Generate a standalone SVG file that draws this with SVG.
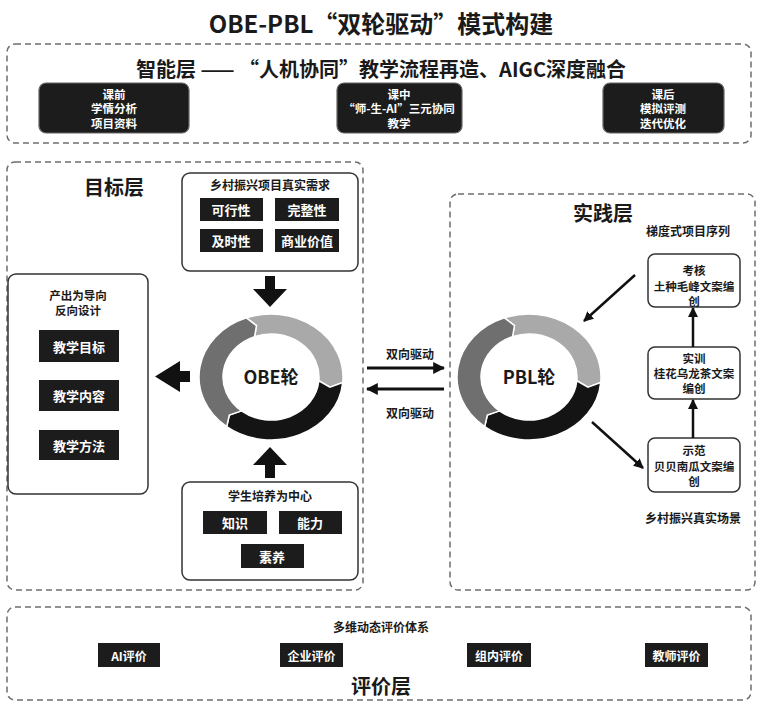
<svg xmlns="http://www.w3.org/2000/svg" xmlns:xlink="http://www.w3.org/1999/xlink" width="762" height="704" viewBox="0 0 762 704">
<style>
text{font-family:"Noto Sans CJK SC","Noto Sans",sans-serif;font-weight:700;fill:#1a1a1a;text-anchor:middle;dominant-baseline:central}
.w{fill:#fff}
.t12{font-size:12px}
.t11{font-size:11.5px}
.t13{font-size:13px}
.big{font-size:20px}
.dash{fill:none;stroke:#6e6e6e;stroke-width:1.5;stroke-dasharray:6 4}
.frame{fill:#fff;stroke:#333;stroke-width:1.5}
.dk{fill:#1c1c1c}
.dkr{fill:#1c1c1c;stroke:#666;stroke-width:1.2}
.ln{fill:none;stroke:#111;stroke-width:3}
.ln2{fill:none;stroke:#111;stroke-width:2.5}
.blk{fill:#111}
.s1{fill:#a9a9a9;stroke:#fff;stroke-width:1.5}
.s2{fill:#141414;stroke:#fff;stroke-width:1.5}
.s3{fill:#6f6f6f;stroke:#fff;stroke-width:1.5}
</style>
<defs>
<marker id="ah" viewBox="0 0 10 10" refX="9" refY="5" markerWidth="4" markerHeight="4" orient="auto"><path d="M0,0 L10,5 L0,10 z" fill="#111"/></marker>
<g id="wheel">
<path class="s1" d="M-24.62,-59.20 A72,63 0 0 1 71.73,5.49 L58.90,10.11 L47.82,3.75 A48,43 0 0 0 -16.42,-40.41 L-14.51,-51.43 Z"/>
<path class="s2" d="M71.73,5.49 A72,63 0 0 1 -44.33,49.64 L-41.68,38.12 L-29.55,33.88 A48,43 0 0 0 47.82,3.75 L58.90,10.11 Z"/>
<path class="s3" d="M-44.33,49.64 A72,63 0 0 1 -24.62,-59.20 L-14.51,-51.43 L-16.42,-40.41 A48,43 0 0 0 -29.55,33.88 L-41.68,38.12 Z"/>
</g>
</defs>
<rect width="762" height="704" fill="#fff"/>

<text x="381" y="22" style="font-size:24px">OBE-PBL“双轮驱动”模式构建</text>

<g id="layer-ai">
<rect class="dash" x="7" y="44" width="744" height="99" rx="8"/>
<text x="381" y="68" class="big">智能层 —— “人机协同”教学流程再造、AIGC深度融合</text>
</g>
<g id="pre">
<rect class="dkr" x="39" y="83" width="150" height="50" rx="7"/>
<text class="w t11" x="114" y="93.5">课前</text>
<text class="w t11" x="114" y="108">学情分析</text>
<text class="w t11" x="114" y="122.5">项目资料</text>
</g>
<g id="mid">
<rect class="dkr" x="337" y="83" width="125" height="50" rx="7"/>
<text class="w t11" x="399" y="93.5">课中</text>
<text class="w t11" x="399" y="108">“师-生-AI”三元协同</text>
<text class="w t11" x="399" y="122.5">教学</text>
</g>
<g id="post">
<rect class="dkr" x="603" y="83" width="121" height="50" rx="7"/>
<text class="w t11" x="663" y="93.5">课后</text>
<text class="w t11" x="663" y="108">模拟评测</text>
<text class="w t11" x="663" y="122.5">迭代优化</text>
</g>

<g id="layer-goal">
<rect class="dash" x="7" y="162" width="356" height="428" rx="8"/>
<text x="114" y="186" class="big">目标层</text>
</g>
<g id="demand">
<rect class="frame" x="182" y="173" width="176" height="98" rx="8"/>
<text class="t12" x="270" y="184">乡村振兴项目真实需求</text>
<rect class="dk" x="200" y="198" width="63" height="23"/>
<text class="w t13" x="231" y="209.5">可行性</text>
<rect class="dk" x="275" y="198" width="64" height="23"/>
<text class="w t13" x="307" y="209.5">完整性</text>
<rect class="dk" x="200" y="229" width="63" height="23"/>
<text class="w t13" x="231" y="240.5">及时性</text>
<rect class="dk" x="275" y="229" width="64" height="23"/>
<text class="w t13" x="307" y="240.5">商业价值</text>
</g>
<g id="output">
<rect class="frame" x="8" y="274" width="140" height="220" rx="8"/>
<text class="t11" x="78" y="295">产出为导向</text>
<text class="t11" x="78" y="310">反向设计</text>
<rect class="dk" x="39" y="330" width="80" height="32"/>
<text class="w t13" x="79" y="346">教学目标</text>
<rect class="dk" x="39" y="380" width="80" height="31"/>
<text class="w t13" x="79" y="395.5">教学内容</text>
<rect class="dk" x="39" y="430" width="80" height="30"/>
<text class="w t13" x="79" y="445">教学方法</text>
</g>
<g id="student">
<rect class="frame" x="182" y="482" width="176" height="98" rx="8"/>
<text class="t12" x="270" y="495">学生培养为中心</text>
<rect class="dk" x="203" y="511" width="64" height="23"/>
<text class="w t13" x="235" y="522.5">知识</text>
<rect class="dk" x="279" y="511" width="63" height="23"/>
<text class="w t13" x="310" y="522.5">能力</text>
<rect class="dk" x="241" y="544" width="63" height="24"/>
<text class="w t13" x="272" y="556">素养</text>
</g>
<g id="obe">
<use xlink:href="#wheel" href="#wheel" transform="translate(271,377)"/>
<text x="271" y="376" style="font-size:18px">OBE轮</text>
</g>

<g id="layer-practice">
<rect class="dash" x="450" y="194" width="305" height="396" rx="8"/>
<text x="603" y="212" class="big">实践层</text>
<text class="t12" x="688" y="230">梯度式项目序列</text>
<text class="t12" x="693" y="517">乡村振兴真实场景</text>
</g>
<g id="pbl">
<use xlink:href="#wheel" href="#wheel" transform="translate(529,377)"/>
<text x="529" y="376" style="font-size:18px">PBL轮</text>
</g>
<g id="exam">
<rect class="frame" x="648" y="254" width="92" height="53" rx="7"/>
<text class="t11" x="694" y="270">考核</text>
<text class="t11" x="694" y="285.5">土种毛峰文案编</text>
<text class="t11" x="694" y="301">创</text>
</g>
<g id="train">
<rect class="frame" x="648" y="347" width="92" height="52" rx="7"/>
<text class="t11" x="694" y="358">实训</text>
<text class="t11" x="694" y="373">桂花乌龙茶文案</text>
<text class="t11" x="694" y="388">编创</text>
</g>
<g id="demo">
<rect class="frame" x="648" y="438" width="92" height="54" rx="7"/>
<text class="t11" x="694" y="450">示范</text>
<text class="t11" x="694" y="465.5">贝贝南瓜文案编</text>
<text class="t11" x="694" y="481">创</text>
</g>

<g id="layer-eval">
<rect class="dash" x="7" y="607" width="744" height="93" rx="8"/>
<text class="t12" x="381" y="626">多维动态评价体系</text>
<text x="381" y="685" class="big">评价层</text>
<rect class="dk" x="98" y="643" width="62" height="24"/>
<text class="w t12" x="129" y="655">AI评价</text>
<rect class="dk" x="280" y="643" width="63" height="24"/>
<text class="w t12" x="311.5" y="655">企业评价</text>
<rect class="dk" x="467" y="643" width="64" height="24"/>
<text class="w t12" x="499" y="655">组内评价</text>
<rect class="dk" x="645" y="643" width="63" height="24"/>
<text class="w t12" x="676.5" y="655">教师评价</text>
</g>

<g id="connectors">
<polygon class="blk" points="265,276 275,276 275,289 287,289 270,307 253,289 265,289"/>
<polygon class="blk" points="265,478 275,478 275,465 287,465 270,447 253,465 265,465"/>
<polygon class="blk" points="190,371 190,382 180,382 180,392 155,376.5 180,361 180,371"/>
<line class="ln" x1="367" y1="368" x2="444" y2="368" marker-end="url(#ah)"/>
<text class="t12" x="410" y="353">双向驱动</text>
<line class="ln" x1="444" y1="389" x2="367" y2="389" marker-end="url(#ah)"/>
<text class="t12" x="410" y="412">双向驱动</text>
<line class="ln2" x1="635" y1="275" x2="584" y2="321" marker-end="url(#ah)"/>
<line class="ln2" x1="592" y1="422" x2="643" y2="468" marker-end="url(#ah)"/>
<line class="ln2" x1="693" y1="438" x2="693" y2="400" marker-end="url(#ah)"/>
<line class="ln2" x1="693" y1="347" x2="693" y2="308" marker-end="url(#ah)"/>
</g>
</svg>
